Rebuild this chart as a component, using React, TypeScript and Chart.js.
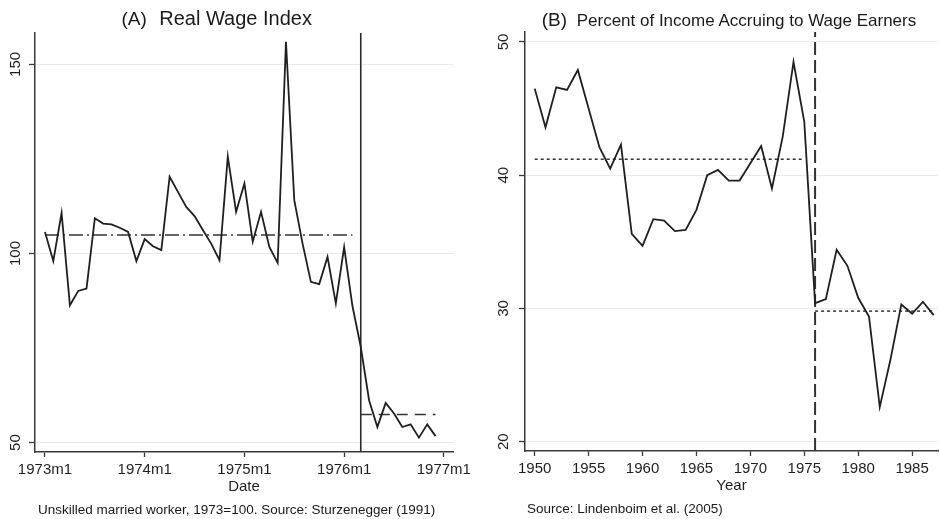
import React, { useEffect, useRef } from "react";
import { Chart, registerables } from "chart.js";

Chart.register(...registerables);
Chart.defaults.font.family = "'Liberation Sans', Arial, Helvetica, sans-serif";
Chart.defaults.color = "#1a1a1a";

// ---------- Panel A: Real wage index (monthly, 0 = 1973m1) ----------
const wageMonths = [
  0, 1, 2, 3, 4, 5, 6, 7, 8, 9, 10, 11,
  12, 13, 14, 15, 16, 17, 18, 19, 20, 21, 22, 23,
  24, 25, 26, 27, 28, 29, 30, 31, 32, 33, 34, 35,
  36, 37, 38, 39, 40, 41, 42, 43, 44, 45, 46, 47,
];
const realWage = [
  105.7, 98.0, 110.7, 86.3, 90.1, 90.7, 109.3, 107.9, 107.7, 106.8, 105.7, 98.0,
  103.8, 101.9, 100.9, 120.3, 116.3, 112.3, 109.9, 106.2, 102.6, 98.2, 125.6, 111.0,
  118.5, 103.1, 111.0, 101.7, 97.5, 156.0, 114.1, 102.6, 92.5, 91.9, 99.1, 86.8,
  101.7, 86.1, 75.3, 61.2, 54.1, 60.5, 57.7, 54.1, 54.8, 51.3, 54.8, 51.7,
];
const wagePrePeriod = [0, 37];
const wagePreMean = 104.9;
const wagePostPeriod = [38, 47];
const wagePostMean = 57.4;
const wageBreakMonth = 38;
const wageXRange = [-1.2, 49.1];
const wageYRange = [47.5, 158.3];
const wageXTickValues = [0, 12, 24, 36, 48];
const wageXTickLabels = ["1973m1", "1974m1", "1975m1", "1976m1", "1977m1"];
const wageYTickValues = [50, 100, 150];

// ---------- Panel B: Percent of income accruing to wage earners ----------
const incomeYears = [
  1950, 1951, 1952, 1953, 1954, 1955, 1956, 1957, 1958, 1959,
  1960, 1961, 1962, 1963, 1964, 1965, 1966, 1967, 1968, 1969,
  1970, 1971, 1972, 1973, 1974, 1975, 1976, 1977, 1978, 1979,
  1980, 1981, 1982, 1983, 1984, 1985, 1986, 1987,
];
const wageShare = [
  46.5, 43.6, 46.6, 46.4, 47.9, 45.0, 42.1, 40.5, 42.3, 35.6,
  34.7, 36.7, 36.6, 35.8, 35.9, 37.4, 40.0, 40.4, 39.6, 39.6,
  40.9, 42.2, 39.0, 42.9, 48.5, 44.0, 30.4, 30.7, 34.4, 33.2,
  30.8, 29.4, 22.6, 26.2, 30.3, 29.6, 30.5, 29.5,
];
const sharePrePeriod = [1950, 1975];
const sharePreMean = 41.2;
const sharePostPeriod = [1976, 1987];
const sharePostMean = 29.8;
const shareBreakYear = 1976;
const shareXRange = [1949.1, 1987.4];
const shareYRange = [19.3, 50.75];
const shareXTickValues = [1950, 1955, 1960, 1965, 1970, 1975, 1980, 1985];
const shareYTickValues = [20, 30, 40, 50];

const INK = "#1f1f1f";
const AXIS = "#3a3a3a";
const GRID = "#ebebeb";

function fixedTicks(values: number[]) {
  return (scale: any) => {
    scale.ticks = values.map((v) => ({ value: v }));
  };
}

function baseScales(opts: any) {
  return {
    x: {
      type: "linear",
      min: opts.xRange[0],
      max: opts.xRange[1],
      afterBuildTicks: fixedTicks(opts.xTicks),
      afterFit: (s: any) => {
        s.height = 45;
      },
      ticks: {
        autoSkip: false,
        maxRotation: 0,
        minRotation: 0,
        padding: 4,
        color: INK,
        font: { size: 15 },
        callback: opts.xLabel,
      },
      grid: { drawOnChartArea: false, tickLength: 5, tickColor: AXIS, tickWidth: 1.3 },
      border: { color: AXIS, width: 1.5 },
      title: {
        display: true,
        text: opts.xTitle,
        color: INK,
        font: { size: 15 },
        padding: { top: 0, bottom: 1 },
      },
    },
    y: {
      type: "linear",
      min: opts.yRange[0],
      max: opts.yRange[1],
      afterBuildTicks: fixedTicks(opts.yTicks),
      afterFit: (s: any) => {
        s.width = opts.yWidth;
      },
      ticks: {
        autoSkip: false,
        minRotation: 90,
        maxRotation: 90,
        crossAlign: "center",
        padding: opts.yPad,
        color: INK,
        font: { size: 15 },
      },
      grid: { color: GRID, lineWidth: 1, tickLength: 6, tickColor: AXIS, tickWidth: 1.3 },
      border: { color: AXIS, width: 1.5 },
    },
  };
}

function lineDs(data: any[], extra: any = {}) {
  return {
    data,
    borderColor: INK,
    borderWidth: 1.8,
    pointRadius: 0,
    tension: 0,
    fill: false,
    ...extra,
  };
}

function buildWageChart(canvas: HTMLCanvasElement) {
  return new Chart(canvas, {
    type: "line",
    data: {
      datasets: [
        lineDs(wageMonths.map((m, i) => ({ x: m, y: realWage[i] }))),
        lineDs(
          wagePrePeriod.map((m) => ({ x: m, y: wagePreMean })),
          { borderDash: [14, 4, 2, 4], borderWidth: 1.4, borderColor: "#333" }
        ),
        lineDs(
          wagePostPeriod.map((m) => ({ x: m, y: wagePostMean })),
          { borderDash: [11, 7], borderWidth: 1.4, borderColor: "#333" }
        ),
        lineDs(
          wageYRange.map((v) => ({ x: wageBreakMonth, y: v })),
          { borderWidth: 1.6, borderColor: "#2a2a2a" }
        ),
      ],
    } as any,
    options: {
      animation: false,
      responsive: false,
      maintainAspectRatio: false,
      layout: { padding: { top: 33, left: 0, right: 37, bottom: 22 } },
      plugins: { legend: { display: false }, tooltip: { enabled: false }, title: { display: false } },
      scales: baseScales({
        xRange: wageXRange,
        yRange: wageYRange,
        xTicks: wageXTickValues,
        yTicks: wageYTickValues,
        xLabel: (v: any) => {
          const i = wageXTickValues.indexOf(Number(v));
          return i >= 0 ? wageXTickLabels[i] : "";
        },
        xTitle: "Date",
        yWidth: 35,
        yPad: 1,
      }),
    } as any,
  });
}

function buildShareChart(canvas: HTMLCanvasElement) {
  return new Chart(canvas, {
    type: "line",
    data: {
      datasets: [
        lineDs(incomeYears.map((y, i) => ({ x: y, y: wageShare[i] }))),
        lineDs(
          sharePrePeriod.map((y) => ({ x: y, y: sharePreMean })),
          { borderDash: [3, 3], borderWidth: 1.5, borderColor: "#333" }
        ),
        lineDs(
          sharePostPeriod.map((y) => ({ x: y, y: sharePostMean })),
          { borderDash: [3, 3], borderWidth: 1.5, borderColor: "#333" }
        ),
        lineDs(
          shareYRange.map((v) => ({ x: shareBreakYear, y: v })),
          { borderDash: [13, 5], borderWidth: 2, borderColor: "#333" }
        ),
      ],
    } as any,
    options: {
      animation: false,
      responsive: false,
      maintainAspectRatio: false,
      layout: { padding: { top: 32, left: 0, right: 2, bottom: 23 } },
      plugins: { legend: { display: false }, tooltip: { enabled: false }, title: { display: false } },
      scales: baseScales({
        xRange: shareXRange,
        yRange: shareYRange,
        xTicks: shareXTickValues,
        yTicks: shareYTickValues,
        xLabel: (v: any) => String(v),
        xTitle: "Year",
        yWidth: 55,
        yPad: 6.9,
      }),
    } as any,
  });
}

const textBase: React.CSSProperties = {
  position: "absolute",
  whiteSpace: "nowrap",
  fontFamily: "'Liberation Sans', Arial, Helvetica, sans-serif",
  color: "#1a1a1a",
};

export default function App() {
  const leftRef = useRef<HTMLCanvasElement | null>(null);
  const rightRef = useRef<HTMLCanvasElement | null>(null);

  useEffect(() => {
    document.body.style.margin = "0";
    const a = leftRef.current ? buildWageChart(leftRef.current) : null;
    const b = rightRef.current ? buildShareChart(rightRef.current) : null;
    return () => {
      a?.destroy();
      b?.destroy();
    };
  }, []);

  return (
    <div style={{ position: "relative", width: 940, height: 519, background: "#fff", overflow: "hidden" }}>
      <canvas ref={leftRef} width={490} height={519} style={{ position: "absolute", left: 0, top: 0, width: 490, height: 519 }} />
      <canvas ref={rightRef} width={470} height={519} style={{ position: "absolute", left: 470, top: 0, width: 470, height: 519 }} />

      <span style={{ ...textBase, left: 121.5, top: 8.6, fontSize: 19, lineHeight: "19px" }}>(A)</span>
      <span style={{ ...textBase, left: 159.3, top: 7.8, fontSize: 20, lineHeight: "20px" }}> Real Wage Index</span>

      <span style={{ ...textBase, left: 541.7, top: 10.2, fontSize: 19, lineHeight: "19px" }}>(B)</span>
      <span style={{ ...textBase, left: 576.7, top: 12.1, fontSize: 17, lineHeight: "17px" }}> Percent of Income Accruing to Wage Earners</span>

      <span style={{ ...textBase, left: 38, top: 502.6, fontSize: 13.5, lineHeight: "13.5px" }}>
        Unskilled married worker, 1973=100. Source: Sturzenegger (1991)
      </span>
      <span style={{ ...textBase, left: 527, top: 502.1, fontSize: 13.5, lineHeight: "13.5px" }}>
        Source: Lindenboim et al. (2005)
      </span>
    </div>
  );
}
